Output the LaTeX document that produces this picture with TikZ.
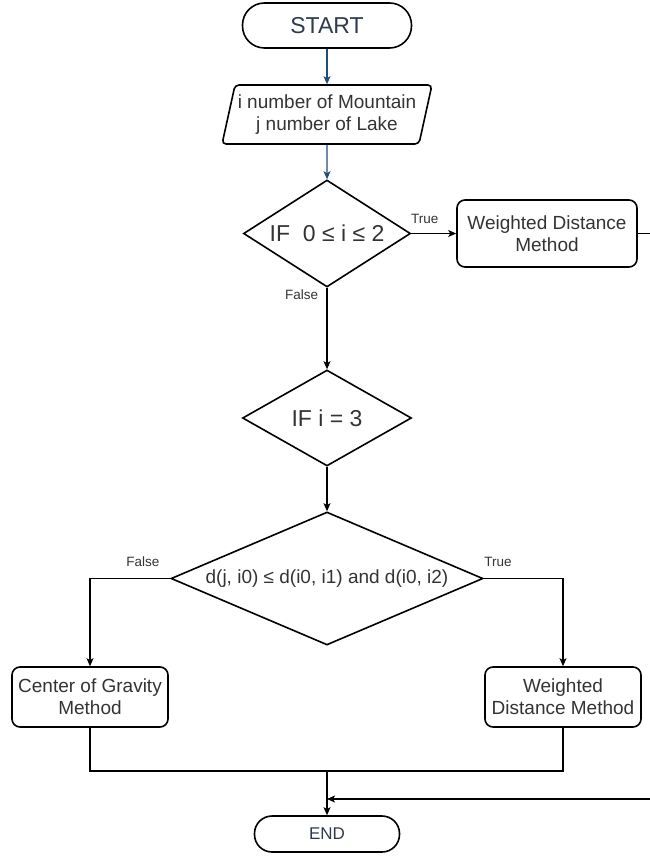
\documentclass[tikz,border=0pt]{standalone}
\usepackage{fontspec}
\setmainfont{Liberation Sans}
\usetikzlibrary{shapes.geometric,arrows.meta}

\definecolor{flowblue}{HTML}{1F4E79}
\definecolor{txtgray}{HTML}{333333}
\definecolor{termtxt}{HTML}{2E3B4E}

\newcommand{\flowbig}{\fontsize{23}{26}\selectfont}
\newcommand{\flowmid}{\fontsize{19}{22}\selectfont}
\newcommand{\flowend}{\fontsize{17}{20}\selectfont}
\newcommand{\flowsmall}{\fontsize{13.5}{16}\selectfont}

\begin{document}
\begin{tikzpicture}[x=1pt,y=-1pt,
    terminal/.style={draw,line width=1.6pt,rectangle,inner sep=0pt,text=termtxt},
    iobox/.style={draw,line width=1.6pt,trapezium,trapezium left angle=73,
      trapezium right angle=107,trapezium stretches,rounded corners=4pt,
      inner sep=1pt,align=center,text=txtgray,font=\flowmid},
    decision/.style={draw,line width=1.6pt,diamond,inner sep=0pt,text=txtgray},
    process/.style={draw,line width=1.6pt,rectangle,rounded corners=8pt,
      inner sep=1pt,align=center,text=txtgray,font=\flowmid},
    flowline/.style={line width=1.1pt,-{Stealth[length=8pt,width=7pt,inset=2pt]}},
    plainline/.style={line width=1.1pt},
    branch/.style={text=txtgray,font=\flowsmall}]
        \useasboundingbox (0,0) rectangle (649,856);

        % Start and input
        \node[terminal,rounded corners=22pt,minimum width=169pt,minimum height=45pt,font=\flowbig] (start) at (327,25.5) {START};
        \node[iobox,minimum width=210pt,minimum height=59pt] (input) at (327,114.5) {i number of Mountain\\j number of Lake};

        % First test
        \node[decision,aspect=1.56,minimum width=167pt,minimum height=107pt,font=\flowbig] (ifrange) at (327,233.5) {IF\ \ 0 ≤ i ≤ 2};
        \node[process,minimum width=180pt,minimum height=67pt] (wdtop) at (547,233.5) {Weighted Distance\\Method};

        % Second and third tests
        \node[decision,aspect=1.76,minimum width=169pt,minimum height=96pt,font=\flowbig] (ifthree) at (327,418) {IF i = 3};
        \node[decision,aspect=2.35,minimum width=312pt,minimum height=133pt,font=\flowmid] (ifdist) at (327,578.5) {d(j, i0) ≤ d(i0, i1) and d(i0, i2)};

        % Methods
        \node[process,minimum width=156pt,minimum height=60pt] (cog) at (90,697) {Center of Gravity\\Method};
        \node[process,minimum width=156pt,minimum height=60pt] (wdright) at (563,697) {Weighted\\Distance Method};

        % End
        \node[terminal,rounded corners=17.5pt,minimum width=145pt,minimum height=36pt,font=\flowend] (finish) at (327,834) {END};
        \coordinate (join) at (327,771);
        \coordinate (back) at (327,799);

        % Connectors
        \draw[flowline,flowblue] (start) -- (input);
        \draw[flowline,flowblue] (input) -- (ifrange);
        \draw[flowline] (ifrange) -- (wdtop) node[branch,pos=0.3,above=6pt] {True};
        \draw[flowline] (ifrange) -- (ifthree) node[branch,pos=0.08,left=5pt] {False};
        \draw[flowline] (ifthree) -- (ifdist);
        \draw[flowline] (ifdist.west) -| (cog.north) node[branch,pos=0.17,above=8pt] {False};
        \draw[flowline] (ifdist.east) -| (wdright.north) node[branch,pos=0.09,above=8pt] {True};

        % Merge to end
        \draw[plainline] (cog.south) |- (join) -| (wdright.south);
        \draw[flowline] (join) -- (finish);
        \draw[flowline] (wdtop.east) -- ++(30,0) |- (back);
      \end{tikzpicture}
\end{document}
